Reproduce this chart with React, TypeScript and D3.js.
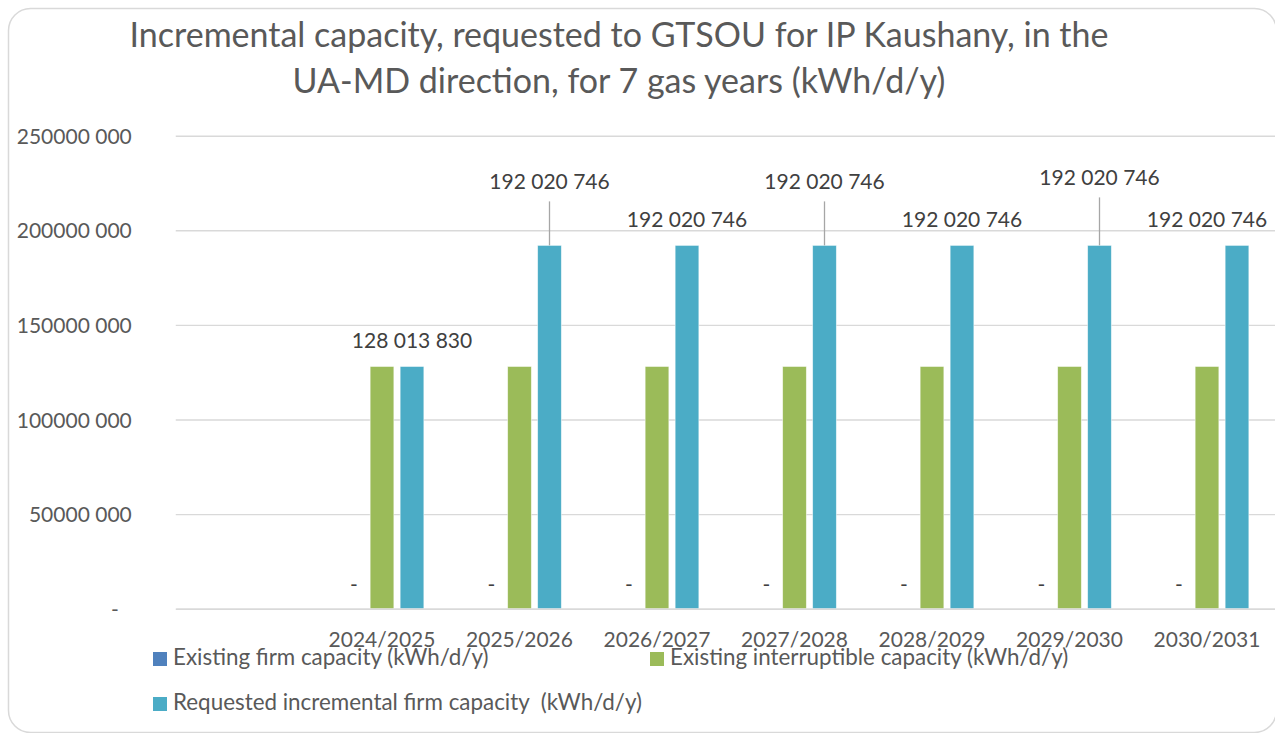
import React, { useRef, useEffect } from 'react';
import * as d3 from 'd3';

const titleLines = [
  'Incremental capacity, requested to GTSOU for IP Kaushany, in the',
  'UA-MD direction, for 7 gas years (kWh/d/y)',
];
// first slot of the category axis is empty in the source sheet
const categories = ['', '2024/2025', '2025/2026', '2026/2027', '2027/2028', '2028/2029', '2029/2030', '2030/2031'];
const seriesNames = [
  'Existing firm capacity (kWh/d/y)',
  'Existing interruptible capacity (kWh/d/y)',
  'Requested incremental firm capacity  (kWh/d/y)',
];
const firmCapacity = [null, 0, 0, 0, 0, 0, 0, 0];
const interruptibleCapacity = [null, 128013830, 128013830, 128013830, 128013830, 128013830, 128013830, 128013830];
const requestedCapacity = [null, 128013830, 192020746, 192020746, 192020746, 192020746, 192020746, 192020746];
const yTicks = [0, 50000000, 100000000, 150000000, 200000000, 250000000];
const colors = ['#4F81BD', '#9BBB59', '#4BACC6'];

// label placement tweaks (pulled-up labels with leader lines, last one nudged left)
const labelLift = [0, 0, 38, 0, 38, 0, 42, 0];
const labelShift = [0, 0, 0, 0, 0, 0, 0, -30];

const FONT = 'Lato, "Open Sans", sans-serif';

const fmtTick = (v) => {
  if (v === 0) return '-';
  const thousands = Math.floor(v / 1000);
  return `${thousands} ${String(v % 1000).padStart(3, '0')}`;
};
const fmtLabel = (v) => (v === 0 ? '-' : d3.format(',')(v).replace(/,/g, ' '));

const App = () => {
  const svgRef = useRef();

  useEffect(() => {
    d3.select(svgRef.current).selectAll('*').remove();

    const svg = d3.select(svgRef.current);
    const width = 1275;
    const height = 733;
    const plot = { left: 175.75, right: 1275.75, top: 135.7, bottom: 608.7 };

    svg.attr('width', width).attr('height', height);

    // chart frame
    svg
      .append('rect')
      .attr('x', 8.5)
      .attr('y', 8.5)
      .attr('width', 1268)
      .attr('height', 724)
      .attr('rx', 22)
      .attr('fill', '#ffffff')
      .attr('stroke', '#d9d9d9')
      .attr('stroke-width', 1.5);

    // title
    svg
      .append('g')
      .selectAll('text')
      .data(titleLines)
      .enter()
      .append('text')
      .attr('x', 619)
      .attr('y', (d, i) => 47 + i * 46)
      .attr('text-anchor', 'middle')
      .attr('font-family', FONT)
      .attr('font-size', 34)
      .attr('fill', '#595959')
      .text((d) => d);

    const xScale = d3.scaleBand().domain(categories).range([plot.left, plot.right]);
    const xInner = d3
      .scaleBand()
      .domain(seriesNames)
      .range([0, 90])
      .paddingInner(0.21)
      .paddingOuter(0.105);
    const innerStart = (c) => xScale(c) + xScale.bandwidth() / 2 - 45;

    const yScale = d3.scaleLinear().domain([0, 250000000]).range([plot.bottom, plot.top]);

    // gridlines + y labels
    const yAxis = d3
      .axisLeft(yScale)
      .tickValues(yTicks)
      .tickSize(-(plot.right - plot.left))
      .tickPadding(44)
      .tickFormat(fmtTick);

    const yG = svg.append('g').attr('transform', `translate(${plot.left}, 0)`).call(yAxis);
    yG.select('.domain').remove();
    yG.selectAll('line').attr('stroke', '#d9d9d9').attr('stroke-width', 1.4);
    yG.selectAll('text')
      .attr('font-family', FONT)
      .attr('font-size', 21)
      .attr('fill', '#595959')
      .attr('dy', '0.36em');
    yG.selectAll('.tick')
      .filter((d) => d === 0)
      .select('text')
      .attr('dx', -13);

    // bars
    const series = [firmCapacity, interruptibleCapacity, requestedCapacity];
    series.forEach((values, s) => {
      svg
        .append('g')
        .selectAll('rect')
        .data(values.map((v, i) => ({ v, c: categories[i] })).filter((d) => d.v !== null && d.v > 0))
        .enter()
        .append('rect')
        .attr('x', (d) => innerStart(d.c) + xInner(seriesNames[s]))
        .attr('y', (d) => yScale(d.v))
        .attr('width', xInner.bandwidth())
        .attr('height', (d) => yScale(0) - yScale(d.v))
        .attr('fill', colors[s])
        .attr('stroke', '#ffffff')
        .attr('stroke-opacity', 0.6)
        .attr('stroke-width', 0.8);
    });

    // x axis line + category labels
    const xAxis = d3.axisBottom(xScale).tickSize(0).tickPadding(38);
    const xG = svg.append('g').attr('transform', `translate(0, ${plot.bottom})`).call(xAxis);
    xG.select('.domain').attr('stroke', '#d9d9d9').attr('stroke-width', 1.6);
    xG.selectAll('text')
      .attr('font-family', FONT)
      .attr('font-size', 21)
      .attr('fill', '#595959')
      .attr('dy', 0);

    // data labels: firm capacity ("-")
    svg
      .append('g')
      .selectAll('text')
      .data(firmCapacity.map((v, i) => ({ v, c: categories[i] })).filter((d) => d.v !== null))
      .enter()
      .append('text')
      .attr('x', (d) => innerStart(d.c) + xInner(seriesNames[0]) + xInner.bandwidth() / 2 + 2)
      .attr('y', (d) => yScale(d.v) - 17)
      .attr('text-anchor', 'middle')
      .attr('font-family', FONT)
      .attr('font-size', 21)
      .attr('fill', '#404040')
      .text((d) => fmtLabel(d.v));

    // data labels: requested capacity
    const reqData = requestedCapacity
      .map((v, i) => ({ v, c: categories[i], lift: labelLift[i], shift: labelShift[i] }))
      .filter((d) => d.v !== null);
    const barCenter = (c) => innerStart(c) + xInner(seriesNames[2]) + xInner.bandwidth() / 2;

    svg
      .append('g')
      .selectAll('line')
      .data(reqData.filter((d) => d.lift > 0))
      .enter()
      .append('line')
      .attr('x1', (d) => barCenter(d.c))
      .attr('x2', (d) => barCenter(d.c))
      .attr('y1', (d) => yScale(d.v))
      .attr('y2', (d) => yScale(d.v) - d.lift - 6)
      .attr('stroke', '#a6a6a6')
      .attr('stroke-width', 1.3);

    svg
      .append('g')
      .selectAll('text')
      .data(reqData)
      .enter()
      .append('text')
      .attr('x', (d) => barCenter(d.c) + d.shift)
      .attr('y', (d) => yScale(d.v) - 18 - d.lift)
      .attr('text-anchor', 'middle')
      .attr('font-family', FONT)
      .attr('font-size', 21)
      .attr('fill', '#404040')
      .text((d) => fmtLabel(d.v));

    // legend
    const legendPos = [
      [153, 659],
      [650, 659],
      [153, 704],
    ];
    const legend = svg
      .append('g')
      .selectAll('g')
      .data(seriesNames)
      .enter()
      .append('g')
      .attr('transform', (d, i) => `translate(${legendPos[i][0]}, ${legendPos[i][1]})`);
    legend
      .append('rect')
      .attr('x', 0)
      .attr('y', -7)
      .attr('width', 14)
      .attr('height', 14)
      .attr('fill', (d, i) => colors[i]);
    legend
      .append('text')
      .attr('x', 20)
      .attr('y', 6)
      .attr('font-family', FONT)
      .attr('font-size', 22.4)
      .attr('fill', '#595959')
      .style('white-space', 'pre')
      .text((d) => d);
  }, []);

  return <svg ref={svgRef} style={{ position: 'absolute', left: 0, top: 0 }}></svg>;
};

export default App;
